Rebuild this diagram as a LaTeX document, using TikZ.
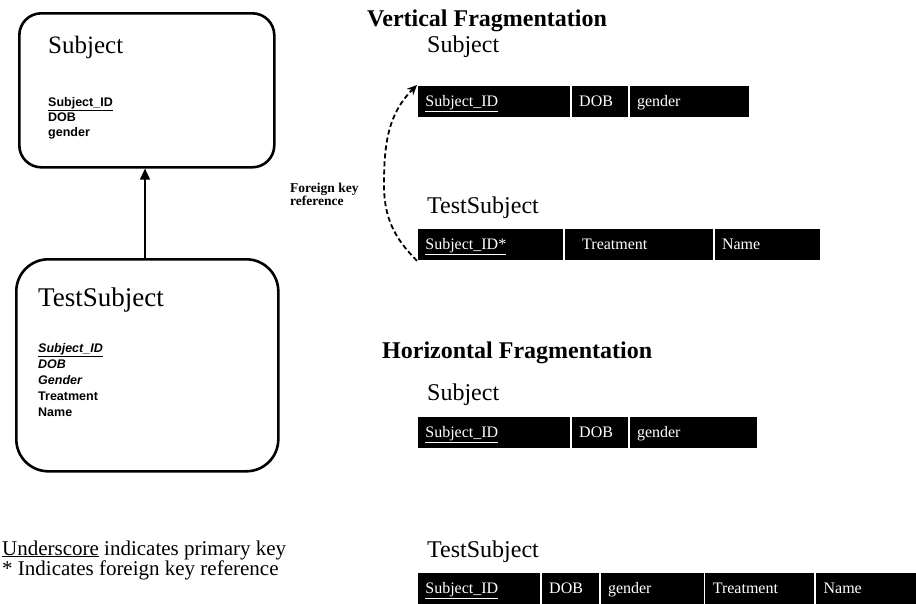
\documentclass[tikz,border=0pt]{standalone}
\usepackage{fontspec}
\setmainfont{Liberation Serif}
\setsansfont{Liberation Sans}
\usetikzlibrary{arrows.meta}
\begin{document}
\begin{tikzpicture}[x=1pt,y=-1pt,
  entity/.style={draw=black, line width=2.6pt, anchor=north west, inner sep=0pt},
  attr/.style={font=\sffamily\bfseries\fontsize{12.5}{14}\selectfont, anchor=base west, inner sep=0pt},
  heading/.style={font=\bfseries\fontsize{24}{28}\selectfont, anchor=base west, inner sep=0pt},
  tname/.style={font=\fontsize{24}{28}\selectfont, anchor=base west, inner sep=0pt},
  cell/.style={fill=black, draw=white, line width=0.8pt, text=white, anchor=north west,
    minimum height=32pt, inner xsep=8pt, inner ysep=0pt, align=left,
    text height=13pt, text depth=3pt,
    font=\fontsize{16}{18}\selectfont},
  note/.style={font=\fontsize{21}{23}\selectfont, anchor=base west, inner sep=0pt},
  fk/.style={font=\bfseries\fontsize{13.5}{13}\selectfont, align=left, inner sep=0pt, anchor=west}
]
\useasboundingbox (0,0) rectangle (916,603);

% ---- left: entity boxes ----
\node[entity, rounded corners=22pt, minimum width=255pt, minimum height=154pt] (subjbox) at (18,12) {};
\node[tname, font=\fontsize{25}{30}\selectfont] (subjt) at (48,53) {Subject};
\node[attr] (s1) at (48,106) {\underline{Subject\_ID}};
\node[attr] (s2) at (48,121) {DOB};
\node[attr] (s3) at (48,136) {gender};

\node[entity, rounded corners=32pt, minimum width=262pt, minimum height=212pt] (tsbox) at (15,258) {};
\node[tname, font=\fontsize{27}{30}\selectfont] (tst) at (38,306) {TestSubject};
\node[attr, font=\sffamily\bfseries\itshape\fontsize{12.5}{14}\selectfont] (t1) at (38,352) {\underline{Subject\_ID}};
\node[attr, font=\sffamily\bfseries\itshape\fontsize{12.5}{14}\selectfont] (t2) at (38,368) {DOB};
\node[attr, font=\sffamily\bfseries\itshape\fontsize{12.5}{14}\selectfont] (t3) at (38,384) {Gender};
\node[attr] (t4) at (38,400) {Treatment};
\node[attr] (t5) at (38,416) {Name};

\coordinate (ax) at (145,0);
\draw[line width=1.6pt, -{Triangle[length=11pt,width=10pt]}] (tsbox.north -| ax) -- (subjbox.south -| ax);

% ---- vertical fragmentation ----
\node[heading] (vh) at (367,26) {Vertical Fragmentation};
\node[tname] (vs) at (427,52) {Subject};
\node[cell, text width=137pt] (v1a) at (417,85) {\underline{Subject\_ID}};
\node[cell, text width=41pt] (v1b) at (v1a.north east) {DOB};
\node[cell, text width=104pt] (v1c) at (v1b.north east) {gender};

\node[tname] (vt) at (427,213) {TestSubject};
\node[cell, text width=130pt] (v2a) at (417,228) {\underline{Subject\_ID*}};
\node[cell, text width=133pt] (v2b) at (v2a.north east) {\hspace*{10pt}Treatment};
\node[cell, text width=90pt] (v2c) at (v2b.north east) {Name};

\node[fk] (fkl) at (290,194) {Foreign key\\reference};
\draw[line width=1.8pt, dash pattern=on 5pt off 3pt, -{Stealth[length=10pt,width=9pt]}]
  (v2a.south west) to[out=135,in=-90] (384,185) to[out=90,in=-135] (v1a.north west);

% ---- horizontal fragmentation ----
\node[heading] (hh) at (382,358) {Horizontal Fragmentation};
\node[tname] (hs) at (427,400) {Subject};
\node[cell, text width=137pt] (h1a) at (417,416) {\underline{Subject\_ID}};
\node[cell, text width=41pt] (h1b) at (h1a.north east) {DOB};
\node[cell, text width=112pt] (h1c) at (h1b.north east) {gender};

\node[tname] (ht) at (427,557) {TestSubject};
\node[cell, text width=107pt] (h2a) at (417,572) {\underline{Subject\_ID}};
\node[cell, text width=42pt] (h2b) at (h2a.north east) {DOB};
\node[cell, text width=88pt] (h2c) at (h2b.north east) {gender};
\node[cell, text width=94pt] (h2d) at (h2c.north east) {Treatment};
\node[cell, text width=96pt] (h2e) at (h2d.north east) {Name};

% ---- legend ----
\node[note] (n1) at (2,555) {\underline{Underscore} indicates primary key};
\node[note] (n2) at (2,575) {* Indicates foreign key reference};
\end{tikzpicture}
\end{document}
